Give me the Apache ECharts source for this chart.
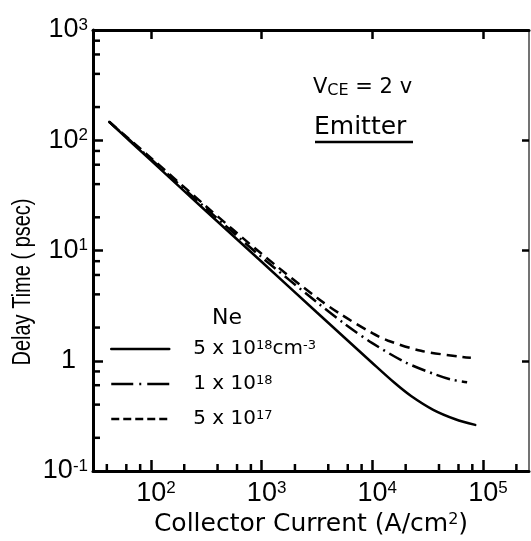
<!DOCTYPE html>
<html>
<head>
<meta charset="utf-8">
<script src="https://cdn.jsdelivr.net/npm/echarts@6/dist/echarts.min.js"></script>
<style>html,body{margin:0;padding:0;background:#fff;}#c{width:531px;height:541px;}</style>
</head>
<body>
<div id="c"></div>
<script>
// ---- data (log-log) ----
const xSolid   = [42, 100, 316, 1000, 3162, 10000, 15850, 22390, 35480, 56230, 85000];
const ySolid   = [147, 65.6, 22.7, 7.9, 2.74, 0.955, 0.631, 0.479, 0.359, 0.295, 0.262];
const xDashDot = [42, 100, 316, 1000, 3162, 5620, 10000, 19950, 37150, 51300, 71800];
const yDashDot = [147, 67.6, 24, 8.7, 3.39, 2.16, 1.445, 0.966, 0.75, 0.676, 0.638];
const xDashed  = [42, 100, 316, 1000, 3162, 5250, 10000, 13930, 27540, 63100, 77600];
const yDashed  = [147, 69.2, 25.1, 9.33, 3.72, 2.62, 1.78, 1.52, 1.23, 1.087, 1.064];

const seriesNames  = ['5e18', '1e18', '5e17'];
const legendLabels = ['5 x 10{s|18}cm{s|-3}', '1 x 10{s|18}', '5 x 10{s|17}'];

const xMajorTicks = [100, 1000, 10000, 100000];
const xMinorTicks = [40, 60, 80, 200, 400, 600, 800, 2000, 4000, 6000, 8000,
                     20000, 40000, 60000, 80000, 200000];
const yMajorTicks = [0.1, 1, 10, 100, 1000];
const yMinorTicks = [0.2, 0.4, 0.6, 0.8, 2, 4, 6, 8, 20, 40, 60, 80, 200, 400, 600, 800];

const X_MIN = 30, X_MAX = 260000, Y_MIN = 0.1, Y_MAX = 1000;

// ---- chart ----
const pairs = (xs, ys) => xs.map((x, i) => [x, ys[i]]);
const TICKFONT = 'Liberation Sans';
const TXTFONT = 'DejaVu Sans';
const MINOR_LEN = 7;

function expOf(v) { return Math.round(Math.log10(v)); }

const chart = echarts.init(document.getElementById('c'), null, {renderer: 'canvas'});

const baseX = {type: 'log', logBase: 10, min: X_MIN, max: X_MAX, gridIndex: 0,
  splitLine: {show: false}, axisLine: {onZero: false}};
const baseY = {type: 'log', logBase: 10, min: Y_MIN, max: Y_MAX, gridIndex: 0,
  splitLine: {show: false}, axisLine: {onZero: false}};

// minor ticks (2,4,6,8 per decade) drawn through the axes' own log scales
function minorTickSeries(values, horizontal) {
  return {
    type: 'custom', xAxisIndex: 0, yAxisIndex: 0, clip: false, silent: true, z: 5,
    data: values.map(v => horizontal ? [v, Y_MIN] : [X_MIN, v]),
    renderItem: (params, api) => {
      const p = api.coord([api.value(0), api.value(1)]);
      const shape = horizontal
        ? {x1: p[0], y1: p[1], x2: p[0], y2: p[1] - MINOR_LEN}
        : {x1: p[0], y1: p[1], x2: p[0] + MINOR_LEN, y2: p[1]};
      return {type: 'line', shape: shape, style: {stroke: '#000', lineWidth: 2.5}};
    }
  };
}

const option = {
  animation: false,
  backgroundColor: '#fff',
  grid: {left: 93, right: 2, top: 30, bottom: 70, containLabel: false, outerBoundsMode: 'none'},
  xAxis: [
    Object.assign({}, baseX, {
      position: 'bottom',
      axisLine: {show: true, onZero: false, lineStyle: {color: '#000', width: 3}},
      axisTick: {show: true, inside: true, length: 11, lineStyle: {color: '#000', width: 2.5},
                 customValues: xMajorTicks},
      axisLabel: {show: true, margin: 9, customValues: xMajorTicks,
        formatter: v => '{b|10}{s|' + expOf(v) + '}',
        rich: {
          b: {fontFamily: TICKFONT, fontSize: 27, color: '#000', padding: [0, 0, 0, 10]},
          s: {fontFamily: TICKFONT, fontSize: 17, color: '#000', verticalAlign: 'top', lineHeight: 17}
        }},
      name: 'Collector Current (A/cm{s|2})',
      nameLocation: 'middle', nameGap: 40,
      nameTextStyle: {fontFamily: TXTFONT, fontSize: 25, color: '#000',
        rich: {s: {fontFamily: TXTFONT, fontSize: 16, color: '#000', verticalAlign: 'top', lineHeight: 16}}}
    }),
    Object.assign({}, baseX, {
      position: 'top',
      axisLine: {show: true, onZero: false, lineStyle: {color: '#000', width: 3}},
      axisTick: {show: true, inside: true, length: 9, lineStyle: {color: '#000', width: 2.5},
                 customValues: xMajorTicks},
      axisLabel: {show: false}
    })
  ],
  yAxis: [
    Object.assign({}, baseY, {
      position: 'left',
      axisLine: {show: true, onZero: false, lineStyle: {color: '#000', width: 3}},
      axisTick: {show: true, inside: true, length: 10, lineStyle: {color: '#000', width: 2.5},
                 customValues: yMajorTicks},
      axisLabel: {show: true, margin: 5, customValues: yMajorTicks,
        formatter: v => { const e = expOf(v); return e === 0 ? '{one|1}' : '{b|10}{s|' + e + '}'; },
        rich: {
          b: {fontFamily: TICKFONT, fontSize: 27, color: '#000'},
          s: {fontFamily: TICKFONT, fontSize: 17, color: '#000', verticalAlign: 'top', lineHeight: 17},
          one: {fontFamily: TICKFONT, fontSize: 27, color: '#000', padding: [0, 12, 0, 0]}
        }}
    }),
    Object.assign({}, baseY, {
      position: 'right',
      axisLine: {show: true, onZero: false, lineStyle: {color: '#444', width: 1.5}},
      axisTick: {show: true, inside: true, length: 7, lineStyle: {color: '#000', width: 2.5},
                 customValues: yMajorTicks},
      axisLabel: {show: false}
    })
  ],
  legend: {
    orient: 'vertical', left: 110, top: 339, padding: 0,
    itemWidth: 58, itemHeight: 14, itemGap: 15,
    lineStyle: {width: 2.5, color: '#000'},
    itemStyle: {opacity: 0, color: 'rgba(0,0,0,0)', borderWidth: 0},
    data: [
      {name: seriesNames[0], lineStyle: {type: 'solid'}},
      {name: seriesNames[1], lineStyle: {type: [22, 6, 2, 6]}},
      {name: seriesNames[2], lineStyle: {type: [8, 4]}}
    ],
    formatter: name => legendLabels[seriesNames.indexOf(name)],
    textStyle: {fontFamily: TXTFONT, fontSize: 20, lineHeight: 20, color: '#000', padding: [0, 0, 0, 19],
      rich: {s: {fontFamily: TXTFONT, fontSize: 13, color: '#000', verticalAlign: 'top', lineHeight: 13}}}
  },
  series: [
    {name: seriesNames[0], type: 'line', xAxisIndex: 0, yAxisIndex: 0, symbol: 'none',
     smooth: 0.3, data: pairs(xSolid, ySolid),
     lineStyle: {color: '#000', width: 2.5, type: 'solid', cap: 'round'}, itemStyle: {color: '#000'}},
    {name: seriesNames[1], type: 'line', xAxisIndex: 0, yAxisIndex: 0, symbol: 'none',
     smooth: 0.3, data: pairs(xDashDot, yDashDot),
     lineStyle: {color: '#000', width: 2.5, type: [14, 5, 2, 5]}, itemStyle: {color: '#000'}},
    {name: seriesNames[2], type: 'line', xAxisIndex: 0, yAxisIndex: 0, symbol: 'none',
     smooth: 0.3, data: pairs(xDashed, yDashed),
     lineStyle: {color: '#000', width: 2.5, type: [10, 6]}, itemStyle: {color: '#000'}},
    minorTickSeries(xMinorTicks, true),
    minorTickSeries(yMinorTicks, false)
  ],
  graphic: [
    {type: 'text', x: 212, y: 318,
     style: {text: 'Ne', font: '22px "DejaVu Sans"', fill: '#000', align: 'left', verticalAlign: 'middle'}},
    {type: 'text', x: 313, y: 88,
     style: {text: '{a|V}{b|CE}{a| = 2 v}', align: 'left', verticalAlign: 'middle',
       rich: {a: {fontFamily: TXTFONT, fontSize: 21, fill: '#000', color: '#000'},
              b: {fontFamily: TXTFONT, fontSize: 16, fill: '#000', color: '#000', verticalAlign: 'bottom', lineHeight: 13}}}},
    {type: 'text', x: 314, y: 127,
     style: {text: 'Emitter', font: '25px "DejaVu Sans"', fill: '#000', align: 'left', verticalAlign: 'middle'}},
    {type: 'line', shape: {x1: 315, y1: 142, x2: 413, y2: 142}, style: {stroke: '#000', lineWidth: 2.5}},
    {type: 'text', x: 23, y: 282, rotation: Math.PI / 2, scaleY: 1.25,
     style: {text: 'Delay Time ( psec)', font: '20px "Liberation Sans"', fill: '#000', align: 'center', verticalAlign: 'middle'}}
  ]
};
chart.setOption(option);
</script>
</body>
</html>
